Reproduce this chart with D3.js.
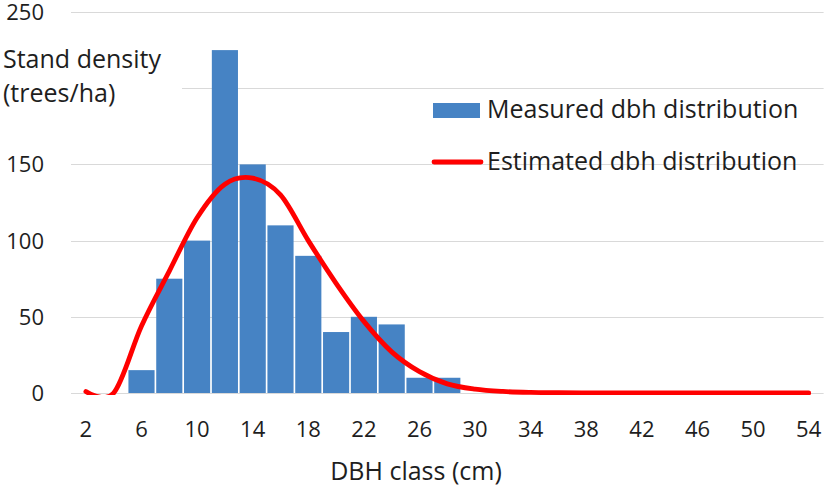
<!DOCTYPE html>
<html>
<head>
<meta charset="utf-8">
<script src="https://cdn.jsdelivr.net/npm/d3@7"></script>
<style>
  html, body { margin: 0; padding: 0; background: #ffffff; }
  svg { display: block; }
  text { font-family: "Open Sans", "DejaVu Sans", sans-serif; fill: #1e1e1e; }
</style>
</head>
<body>
<svg id="chart" width="827" height="490"></svg>
<script>
// ---- data ----
const categories = [2,4,6,8,10,12,14,16,18,20,22,24,26,28,30,32,34,36,38,40,42,44,46,48,50,52,54];
const measured   = [0,0,15,75,100,225,150,110,90,40,50,45,10,10,0,0,0,0,0,0,0,0,0,0,0,0,0];
const estimated  = [1,0,44,80,115,137,141,130,100,72,47,27,14,6,2.5,1,0.4,0.2,0,0,0,0,0,0,0,0,0];
const gridTicks = [0,50,100,150,200,250];
const yTickLabels = [0,50,100,150,250];   // 200 is hidden behind the axis title box
const xTickLabels = [2,6,10,14,18,22,26,30,34,38,42,46,50,54];
const seriesNames = ["Measured dbh distribution", "Estimated dbh distribution"];
const yTitle = ["Stand density", "(trees/ha)"];
const xTitle = "DBH class (cm)";

// ---- layout ----
const svg = d3.select("#chart");
const plot = { left: 72, right: 822.6, top: 12, bottom: 393 };
const barColor = "#4683c4";
const lineColor = "#ff0000";
const tickFont = 22;
const titleFont = 25;

const x = d3.scaleBand().domain(categories).range([plot.left, plot.right]).paddingInner(0.06).paddingOuter(0.03);
const y = d3.scaleLinear().domain([0, 250]).range([plot.bottom, plot.top]);

// clip for the line (plot area, as in a spreadsheet chart)
svg.append("defs").append("clipPath").attr("id", "plotClip")
  .append("rect").attr("x", 0).attr("y", 0).attr("width", 827).attr("height", plot.bottom + 2);

// gridlines
svg.append("g").selectAll("line").data(gridTicks).join("line")
  .attr("x1", plot.left - 1).attr("x2", plot.right + 1)
  .attr("y1", d => Math.round(y(d)) + 0.5).attr("y2", d => Math.round(y(d)) + 0.5)
  .attr("stroke", "#d9d9d9").attr("stroke-width", 1.2);

// y tick labels
svg.append("g").selectAll("text").data(yTickLabels).join("text")
  .attr("x", 44).attr("y", d => y(d))
  .attr("dy", "0.36em")
  .attr("text-anchor", "end")
  .style("font-size", tickFont + "px")
  .text(d => d);

// bars
svg.append("g").selectAll("rect").data(categories.map((c, i) => ({c, v: measured[i]})).filter(d => d.v > 0)).join("rect")
  .attr("x", d => x(d.c)).attr("width", x.bandwidth())
  .attr("y", d => y(d.v)).attr("height", d => y(0) - y(d.v))
  .attr("fill", barColor);

// smooth line
const line = d3.line()
  .x((d, i) => x(categories[i]) + x.bandwidth() / 2)
  .y(d => y(d))
  .curve(d3.curveCardinal.tension(0));
svg.append("path").datum(estimated)
  .attr("d", line)
  .attr("clip-path", "url(#plotClip)")
  .attr("fill", "none").attr("stroke", lineColor)
  .attr("stroke-width", 4.8).attr("stroke-linecap", "round").attr("stroke-linejoin", "round");

// x tick labels
svg.append("g").selectAll("text").data(xTickLabels).join("text")
  .attr("x", d => x(d) + x.bandwidth() / 2).attr("y", 437)
  .attr("text-anchor", "middle")
  .style("font-size", tickFont + "px")
  .text(d => d);

// x title
svg.append("text").attr("x", 416).attr("y", 480).attr("text-anchor", "middle")
  .style("font-size", titleFont + "px").text(xTitle);

// y title (in a white box that hides the left part of the 200 gridline)
svg.append("rect").attr("x", 0).attr("y", 40).attr("width", 182).attr("height", 72).attr("fill", "#ffffff");
svg.append("text").attr("x", 3).attr("y", 68).style("font-size", titleFont + "px").text(yTitle[0]);
svg.append("text").attr("x", 3).attr("y", 102).style("font-size", titleFont + "px").text(yTitle[1]);

// legend
const lg = svg.append("g");
lg.append("rect").attr("x", 433).attr("y", 103).attr("width", 47).attr("height", 15).attr("fill", barColor);
lg.append("text").attr("x", 487).attr("y", 118).style("font-size", titleFont + "px").text(seriesNames[0]);
lg.append("line").attr("x1", 434).attr("x2", 481).attr("y1", 162).attr("y2", 162)
  .attr("stroke", lineColor).attr("stroke-width", 4.8).attr("stroke-linecap", "round");
lg.append("text").attr("x", 487).attr("y", 170).style("font-size", titleFont + "px").text(seriesNames[1]);
</script>
</body>
</html>
